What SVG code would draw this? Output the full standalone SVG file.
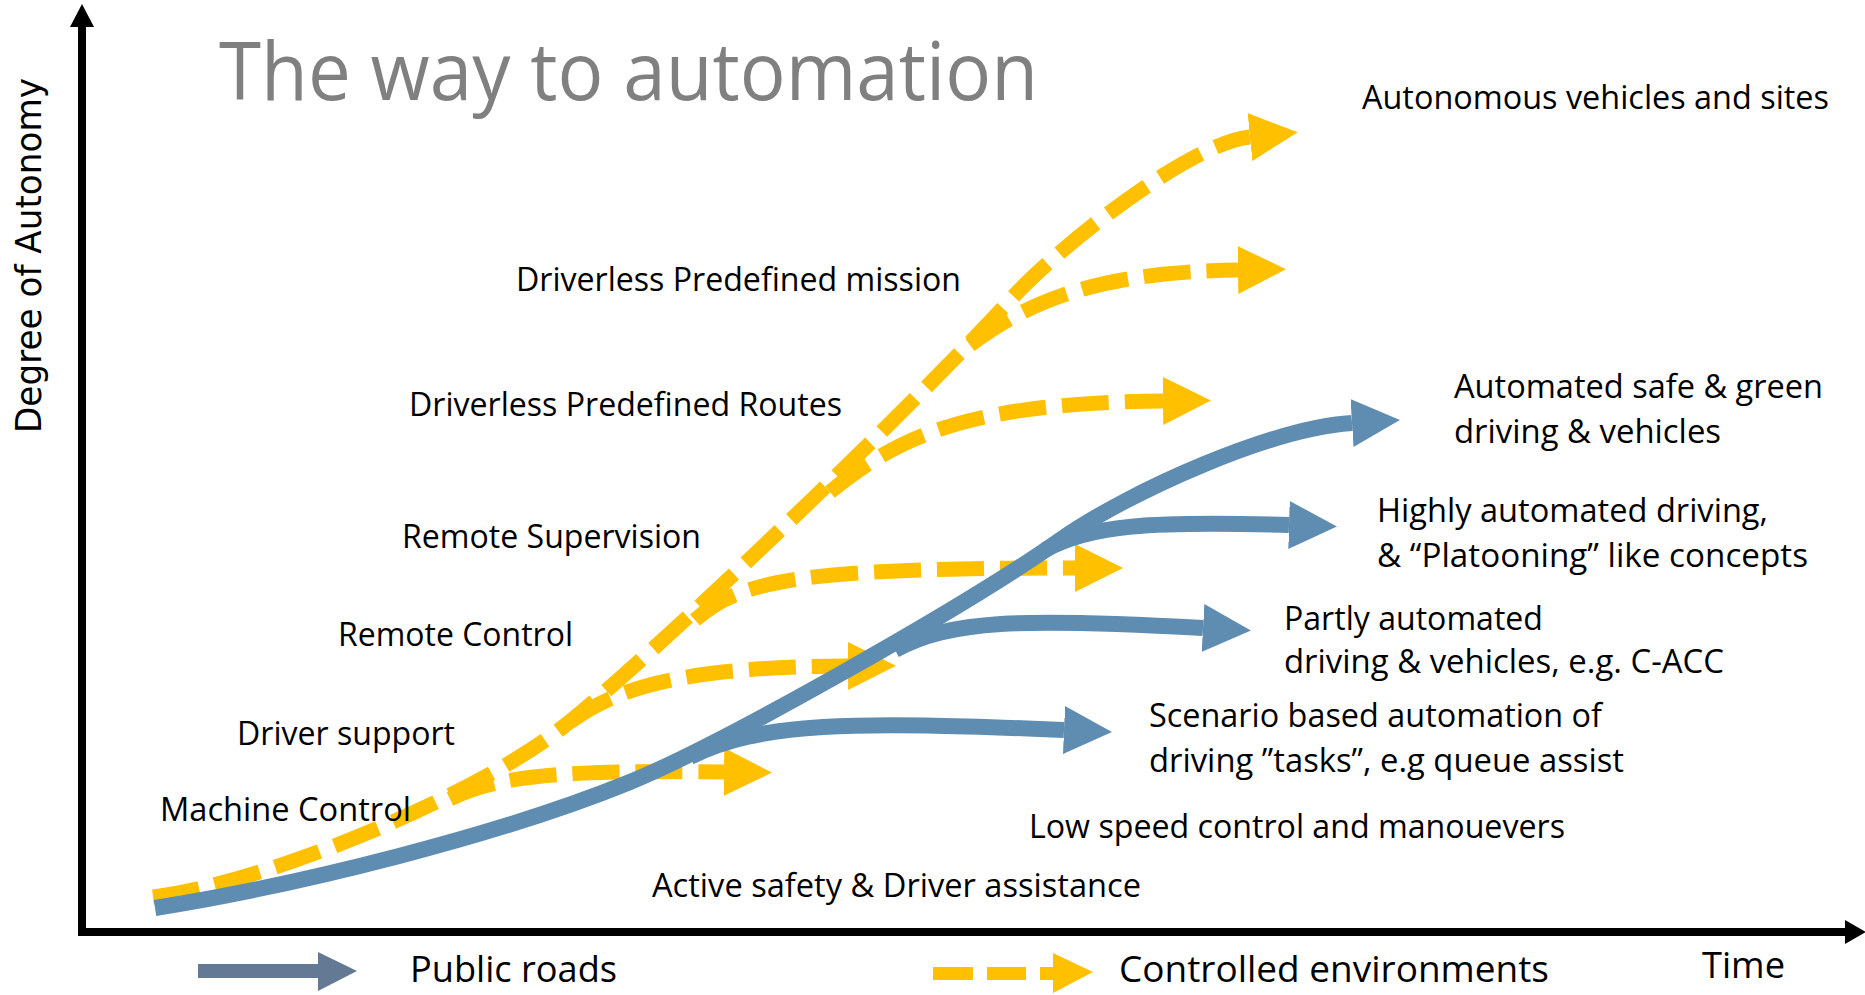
<svg xmlns="http://www.w3.org/2000/svg" width="1865" height="995" viewBox="0 0 1865 995">
  <defs>
    <style>
      .lbl { font-family: "Open Sans", "Liberation Sans", sans-serif; font-size: 33px; fill: #000; }
      .leg { font-family: "Open Sans", "Liberation Sans", sans-serif; font-size: 36px; fill: #000; }
      .title { font-family: "Open Sans", "Liberation Sans", sans-serif; font-size: 80px; fill: #808080; }
      .ylab { font-family: "DejaVu Sans", "Liberation Sans", sans-serif; font-size: 36px; fill: #000; }
      .road { fill: none; stroke: #5F8DB2; stroke-width: 16; stroke-linecap: butt; }
      .site { fill: none; stroke: #FFC000; stroke-width: 15; stroke-linecap: butt; stroke-dasharray: 47 16; }
      .axis { stroke: #000; stroke-width: 8; fill: none; }
    </style>
    <marker id="headB" markerUnits="userSpaceOnUse" markerWidth="48" markerHeight="48" viewBox="0 0 48 48" refX="0" refY="24" orient="auto">
      <path d="M0,0 L48,24 L0,48 Z" fill="#5F8DB2"/>
    </marker>
    <marker id="headY" markerUnits="userSpaceOnUse" markerWidth="48" markerHeight="48" viewBox="0 0 48 48" refX="0" refY="24" orient="auto">
      <path d="M0,0 L48,24 L0,48 Z" fill="#FFC000"/>
    </marker>
  </defs>

  <rect width="1865" height="995" fill="#fff"/>

  <!-- axes -->
  <g id="axes">
    <line class="axis" x1="82" y1="936" x2="82" y2="26"/>
    <polygon points="70,27 94,27 82,4" fill="#000"/>
    <line class="axis" x1="78" y1="932" x2="1846" y2="932"/>
    <polygon points="1845,920 1845,944 1866,932" fill="#000"/>
  </g>

  <text id="title" class="title" x="219" y="100" textLength="819" lengthAdjust="spacingAndGlyphs">The way to automation</text>
  <text id="y-label" class="ylab" transform="translate(41,433) rotate(-90)" textLength="355" lengthAdjust="spacingAndGlyphs">Degree of Autonomy</text>

  <!-- connectors: controlled environments (dashed) below, public roads (solid) above -->
  <g id="connectors">
    <g id="controlled">
      <path class="site" marker-end="url(#headY)" d="M153,897 C260,884 470,800 563,727 C643,664 900,420 1013,297 C1060,246 1190,143 1250,137"/>
      <path class="site" marker-end="url(#headY)" d="M450,799 C500,775 560,770 724,772"/>
      <path class="site" marker-end="url(#headY)" d="M570,722 C620,685 690,667 848,666"/>
      <path class="site" marker-end="url(#headY)" d="M695,620 C740,580 800,568 1075,568"/>
      <path class="site" marker-end="url(#headY)" d="M830,492 C900,435 970,403 1163,401"/>
      <path class="site" marker-end="url(#headY)" d="M970,345 C1030,300 1100,272 1238,270"/>
    </g>
    <g id="public">
      <path class="road" marker-end="url(#headB)" d="M155,908 C300,885 500,835 630,782 C720,745 960,610 1060,540 C1130,491 1272,428 1352,423"/>
      <path class="road" marker-end="url(#headB)" d="M690,757 C760,722 850,721 1064,730"/>
      <path class="road" marker-end="url(#headB)" d="M895,650 C950,620 1020,618 1203,628"/>
      <path class="road" marker-end="url(#headB)" d="M1045,550 C1090,525 1150,521 1289,525"/>
    </g>
  </g>

  <!-- stage labels -->
  <g id="n-autonomous"><text class="lbl" x="1362" y="109" textLength="467" lengthAdjust="spacingAndGlyphs">Autonomous vehicles and sites</text></g>
  <g id="n-mission"><text class="lbl" x="516" y="291" textLength="445" lengthAdjust="spacingAndGlyphs">Driverless Predefined mission</text></g>
  <g id="n-routes"><text class="lbl" x="409" y="416" textLength="433" lengthAdjust="spacingAndGlyphs">Driverless Predefined Routes</text></g>
  <g id="n-supervision"><text class="lbl" x="402" y="548" textLength="299" lengthAdjust="spacingAndGlyphs">Remote Supervision</text></g>
  <g id="n-remote"><text class="lbl" x="338" y="646" textLength="235" lengthAdjust="spacingAndGlyphs">Remote Control</text></g>
  <g id="n-support"><text class="lbl" x="237" y="745" textLength="218" lengthAdjust="spacingAndGlyphs">Driver support</text></g>
  <g id="n-machine"><text class="lbl" x="160" y="821" textLength="251" lengthAdjust="spacingAndGlyphs">Machine Control</text></g>
  <g id="n-lowspeed"><text class="lbl" x="1029" y="838" textLength="536" lengthAdjust="spacingAndGlyphs">Low speed control and manouevers</text></g>
  <g id="n-active"><text class="lbl" x="652" y="897" textLength="489" lengthAdjust="spacingAndGlyphs">Active safety &amp; Driver assistance</text></g>
  <g id="n-green">
    <text class="lbl" x="1454" y="398" textLength="369" lengthAdjust="spacingAndGlyphs">Automated safe &amp; green</text>
    <text class="lbl" x="1454" y="443" textLength="267" lengthAdjust="spacingAndGlyphs">driving &amp; vehicles</text>
  </g>
  <g id="n-highly">
    <text class="lbl" x="1377" y="522" textLength="391" lengthAdjust="spacingAndGlyphs">Highly automated driving,</text>
    <text class="lbl" x="1377" y="567" textLength="431" lengthAdjust="spacingAndGlyphs">&amp; “Platooning” like concepts</text>
  </g>
  <g id="n-partly">
    <text class="lbl" x="1284" y="630" textLength="259" lengthAdjust="spacingAndGlyphs">Partly automated</text>
    <text class="lbl" x="1284" y="673" textLength="440" lengthAdjust="spacingAndGlyphs">driving &amp; vehicles, e.g. C-ACC</text>
  </g>
  <g id="n-scenario">
    <text class="lbl" x="1149" y="727" textLength="453" lengthAdjust="spacingAndGlyphs">Scenario based automation of</text>
    <text class="lbl" x="1149" y="772" textLength="475" lengthAdjust="spacingAndGlyphs">driving ”tasks”, e.g queue assist</text>
  </g>

  <!-- legend -->
  <g id="legend-public">
    <rect x="198" y="964" width="121" height="14" fill="#637994"/>
    <polygon points="318,952 318,991 357,971" fill="#637994"/>
    <text class="leg" x="410" y="982" textLength="207" lengthAdjust="spacingAndGlyphs">Public roads</text>
  </g>
  <g id="legend-controlled">
    <rect x="933" y="967" width="40" height="13" fill="#FFC000"/>
    <rect x="987" y="967" width="39" height="13" fill="#FFC000"/>
    <rect x="1040" y="967" width="14" height="13" fill="#FFC000"/>
    <polygon points="1053,953 1053,993 1093,972" fill="#FFC000"/>
    <text class="leg" x="1119" y="982" textLength="430" lengthAdjust="spacingAndGlyphs">Controlled environments</text>
  </g>
  <g id="time-label"><text class="leg" x="1702" y="978" textLength="83" lengthAdjust="spacingAndGlyphs">Time</text></g>
</svg>
